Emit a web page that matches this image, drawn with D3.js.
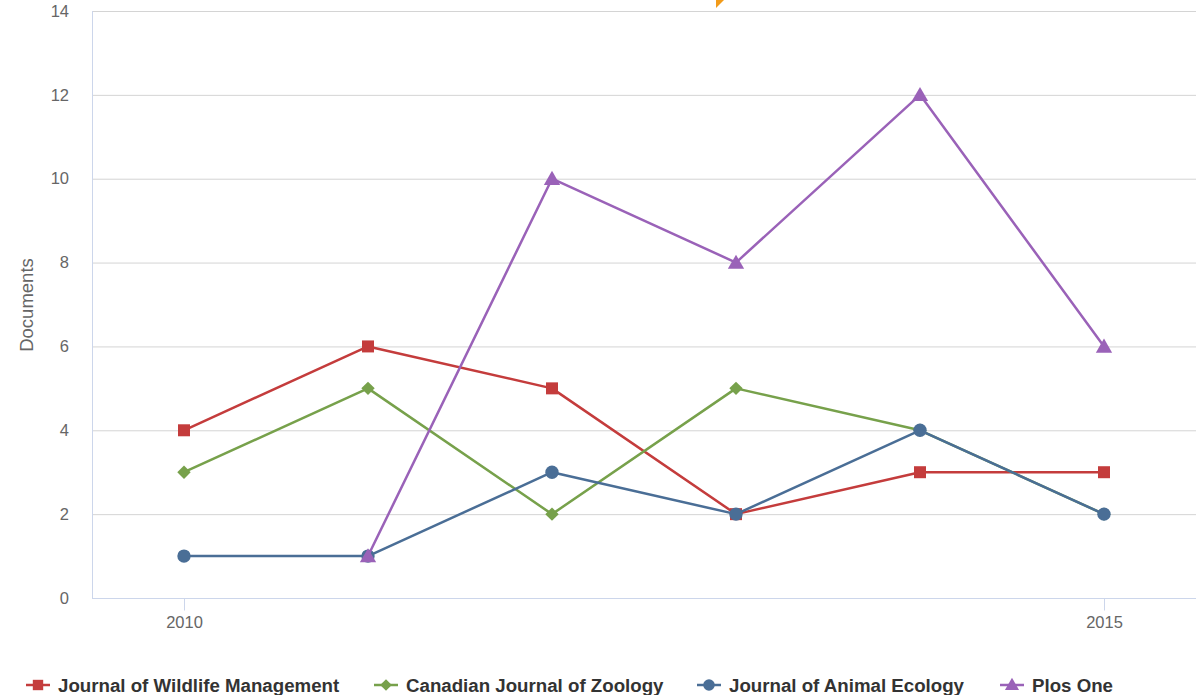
<!DOCTYPE html>
<html><head><meta charset="utf-8">
<script src="https://cdn.jsdelivr.net/npm/d3@7"></script>
<style>
html,body{margin:0;padding:0;background:#fff;}
svg{display:block;font-family:"Liberation Sans",Arial,sans-serif;}
</style></head>
<body>
<svg id="chart" width="1196" height="695"></svg>
<script>
const years = [2010, 2011, 2012, 2013, 2014, 2015];
const seriesNames = ["Journal of Wildlife Management", "Canadian Journal of Zoology", "Journal of Animal Ecology", "Plos One"];
const wildlifeMgmt = [4, 6, 5, 2, 3, 3];
const canadianZoology = [3, 5, 2, 5, 4, 2];
const animalEcology = [1, 1, 3, 2, 4, 2];
const plosOne = [null, 1, 10, 8, 12, 6];
const yTicks = [0, 2, 4, 6, 8, 10, 12, 14];
const xTicks = [2010, 2015];
const yTitle = "Documents";

const colors = ["#c43c3c", "#77a14b", "#4a6e96", "#9a62b8"];
const symbols = [d3.symbolSquare, d3.symbolSquare, d3.symbolCircle, d3.symbolTriangle];
const symRot = [0, 45, 0, 0];
const symSizes = [144, 90, 140, 115];
const allValues = [wildlifeMgmt, canadianZoology, animalEcology, plosOne];

const svg = d3.select("#chart");
const x = d3.scaleLinear().domain([2009.5, 2015.5]).range([92, 1196]);
const y = d3.scaleLinear().domain([0, 14]).range([598, 11]);

// gridlines
svg.append("g").selectAll("line").data(yTicks.filter(d => d > 0)).join("line")
  .attr("x1", 92).attr("x2", 1196)
  .attr("y1", d => y(d) + 0.5).attr("y2", d => y(d) + 0.5)
  .attr("stroke", "#d4d4d4").attr("stroke-width", 1);

// left axis line
svg.append("line").attr("x1", 92.5).attr("x2", 92.5).attr("y1", 11).attr("y2", 598)
  .attr("stroke", "#ccd6eb").attr("stroke-width", 1);

// y axis
const yAxis = d3.axisLeft(y).tickValues(yTicks).tickSize(0).tickPadding(0).tickFormat(d3.format("d"));
const gy = svg.append("g").attr("transform", "translate(69,0)").call(yAxis);
gy.select(".domain").remove();
gy.selectAll("text").attr("fill", "#666").attr("font-size", 16.5).attr("font-family", "Liberation Sans, Arial, sans-serif").attr("dy", "0.32em");

// x axis
const xAxis = d3.axisBottom(x).tickValues(xTicks).tickSize(12).tickPadding(6).tickFormat(d3.format("d"));
const gx = svg.append("g").attr("transform", "translate(0,598.5)").call(xAxis);
gx.select(".domain").attr("d", "M92,0H1196").attr("stroke", "#ccd6eb");
gx.selectAll(".tick line").attr("stroke", "#ccd6eb");
gx.selectAll("text").attr("fill", "#666").attr("font-size", 16.5).attr("font-family", "Liberation Sans, Arial, sans-serif");

// y title
svg.append("text").attr("transform", "translate(33,305) rotate(-90)")
  .attr("text-anchor", "middle").attr("fill", "#666").attr("font-size", 18.5).text(yTitle);

// series
const line = d3.line().defined(d => d.v !== null).x(d => x(d.year)).y(d => y(d.v));
allValues.forEach((vals, i) => {
  const pts = years.map((yr, j) => ({year: yr, v: vals[j]}));
  const g = svg.append("g");
  g.append("path").datum(pts).attr("d", line).attr("fill", "none")
    .attr("stroke", colors[i]).attr("stroke-width", 2.5).attr("stroke-linejoin", "round");
  g.selectAll("path.m").data(pts.filter(d => d.v !== null)).join("path").attr("class", "m")
    .attr("d", d3.symbol().type(symbols[i]).size(symSizes[i]))
    .attr("transform", d => `translate(${x(d.year)},${y(d.v) + (i === 3 ? 1.5 : 0)}) rotate(${symRot[i]})`)
    .attr("fill", colors[i]);
});

// partial orange marker at top edge
svg.append("path").attr("d", "M716,0L724,0L716,8Z").attr("fill", "#f29b1a");

// legend
const legendX = [26, 374, 697, 1000];
const lg = svg.append("g");
seriesNames.forEach((name, i) => {
  const gi = lg.append("g").attr("transform", `translate(${legendX[i]},685)`);
  gi.append("line").attr("x1", 0).attr("x2", 24).attr("y1", 0).attr("y2", 0)
    .attr("stroke", colors[i]).attr("stroke-width", 2.5);
  gi.append("path").attr("d", d3.symbol().type(symbols[i]).size(symSizes[i] * 0.75))
    .attr("transform", `translate(12,${i === 3 ? 1 : 0}) rotate(${symRot[i]})`).attr("fill", colors[i]);
  gi.append("text").attr("x", 32).attr("y", 0).attr("dy", "0.35em")
    .attr("font-size", 18.7).attr("font-weight", "bold").attr("fill", "#333").text(name);
});
</script>
</body></html>
